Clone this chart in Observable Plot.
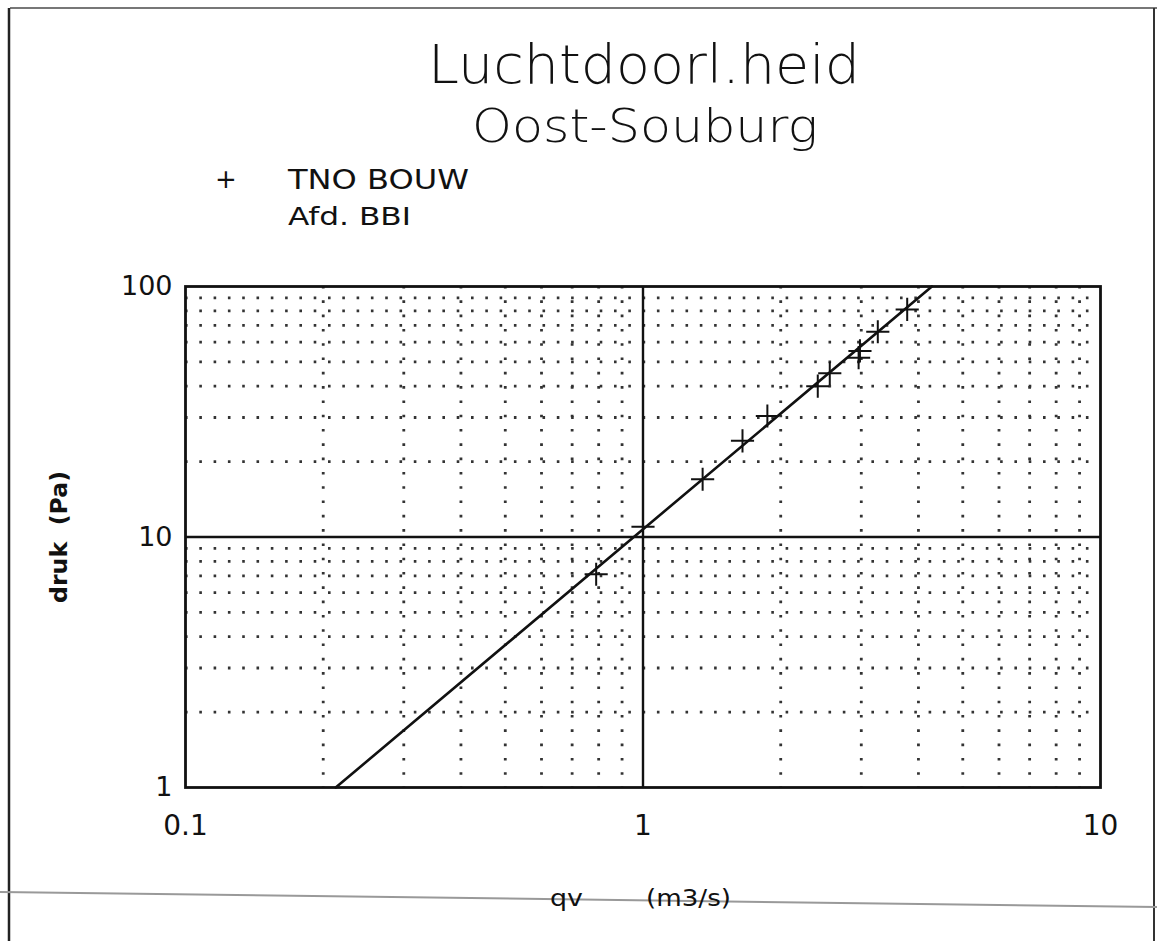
<!DOCTYPE html>
<html><head><meta charset="utf-8">
<script src="https://cdn.jsdelivr.net/npm/d3@7"></script>
<script src="https://cdn.jsdelivr.net/npm/@observablehq/plot@0.6"></script>
<style>
html,body{margin:0;padding:0;background:#fff;}
#wrap{position:relative;width:1157px;height:941px;overflow:hidden;background:#fff;}
#wrap svg{position:absolute;left:0;top:0;}
</style></head><body><div id="wrap"></div>
<script>
// measured points (qv in m3/s, druk in Pa)
const qMeasured = [0.79, 1.00, 1.35, 1.65, 1.87, 2.41, 2.56, 2.96, 2.98, 3.26, 3.78];
const pMeasured = [7.1, 11.0, 17.0, 24.2, 30.4, 40.0, 45.0, 52.0, 55.3, 66.0, 81.0];
// fitted line end points
const fitQ = [0.213, 4.28];
const fitP = [1, 100];
// grid
const xGridMinor = [0.2,0.3,0.4,0.5,0.6,0.7,0.8,0.9,2,3,4,5,6,7,8,9];
const yGridMinor = [2,3,4,5,6,7,8,9,20,30,40,50,60,70,80,90];
const xGridMajor = [1];
const yGridMajor = [10];
// ticks
const xTickValues = [0.1, 1, 10];
const xTickLabels = ["0.1", "1", "10"];
const yTickValues = [1, 10, 100];
const yTickLabels = ["1", "10", "100"];
// texts
const titleText = "Luchtdoorl.heid";
const subtitleText = "Oost-Souburg";
const legendSymbol = "+";
const legendLines = ["TNO BOUW", "Afd. BBI"];
const xLabelParts = ["qv", "(m3/s)"];
const yLabel = "druk  (Pa)";

const points = qMeasured.map((q, i) => ({q, p: pMeasured[i]}));
const fit = fitQ.map((q, i) => ({q, p: fitP[i]}));

const FONT = "DejaVu Sans";
const W = 1157, H = 941;

const chart = Plot.plot({
  width: W, height: H,
  marginLeft: 185, marginRight: 57, marginTop: 286, marginBottom: 154,
  style: {fontFamily: FONT, color: "#111", background: "transparent"},
  x: {type: "log", domain: [0.1, 10]},
  y: {type: "log", domain: [1, 100]},
  marks: [
    Plot.ruleX(xGridMinor, {stroke: "#333", strokeWidth: 2.8, strokeDasharray: "2.6 11.7"}),
    Plot.ruleY(yGridMinor, {stroke: "#333", strokeWidth: 2.8, strokeDasharray: "2.6 11.7"}),
    Plot.ruleX(xGridMajor, {stroke: "#111", strokeWidth: 2.4}),
    Plot.ruleY(yGridMajor, {stroke: "#111", strokeWidth: 2.4}),
    Plot.frame({stroke: "#111", strokeWidth: 2.8}),
    Plot.line(fit, {x: "q", y: "p", stroke: "#111", strokeWidth: 2.6}),
    Plot.dot(points, {x: "q", y: "p", symbol: "plus", r: 7.5, stroke: "#111", strokeWidth: 2}),
    Plot.axisX(xTickValues, {tickSize: 0, tickPadding: 28, fontSize: 28,
      tickFormat: (d) => xTickLabels[xTickValues.indexOf(d)], label: null}),
    Plot.axisY(yTickValues, {tickSize: 0, tickPadding: 13, fontSize: 27,
      tickFormat: (d) => yTickLabels[yTickValues.indexOf(d)], label: null})
  ]
});
document.getElementById("wrap").appendChild(chart);

// overlay: titles, legend, axis titles, page edges
const ov = d3.select("#wrap").append("svg")
  .attr("width", W).attr("height", H)
  .style("font-family", FONT).style("pointer-events", "none");

// page edges of the scanned sheet
ov.append("line").attr("x1", 10).attr("y1", 8).attr("x2", W).attr("y2", 8).attr("stroke", "#777").attr("stroke-width", 2);
ov.append("line").attr("x1", 9).attr("y1", 8).attr("x2", 9).attr("y2", H).attr("stroke", "#222").attr("stroke-width", 2.5);
ov.append("line").attr("x1", 1154).attr("y1", 8).attr("x2", 1154).attr("y2", H).attr("stroke", "#333").attr("stroke-width", 2);
ov.append("line").attr("x1", 0).attr("y1", 892).attr("x2", W).attr("y2", 907).attr("stroke", "#999").attr("stroke-width", 2);

function txt(s, x, y, size, opts = {}) {
  const t = ov.append("text").attr("x", x).attr("y", y)
    .attr("font-size", size).attr("fill", "#111")
    .attr("text-anchor", opts.anchor || "start")
    .style("white-space", "pre")
    .text(s);
  if (opts.weight) t.attr("font-weight", opts.weight);
  if (opts.len) t.attr("textLength", opts.len).attr("lengthAdjust", "spacingAndGlyphs");
  if (opts.transform) t.attr("transform", opts.transform);
  return t;
}

txt(titleText, 644, 83, 54, {anchor: "middle", len: 432, weight: 300});
txt(subtitleText, 645, 142, 46, {anchor: "middle", len: 346, weight: 300});
txt(legendSymbol, 226, 188, 26, {anchor: "middle"});
txt(legendLines[0], 288, 189, 26, {len: 181});
txt(legendLines[1], 288, 225, 25, {len: 123});
txt(xLabelParts[0], 550, 906, 23, {len: 33});
txt(xLabelParts[1], 646, 906, 23, {len: 85});
txt(yLabel, 0, 0, 23, {anchor: "middle", weight: "bold", len: 132, transform: "translate(67,537) rotate(-90)"});
</script>
</body></html>
